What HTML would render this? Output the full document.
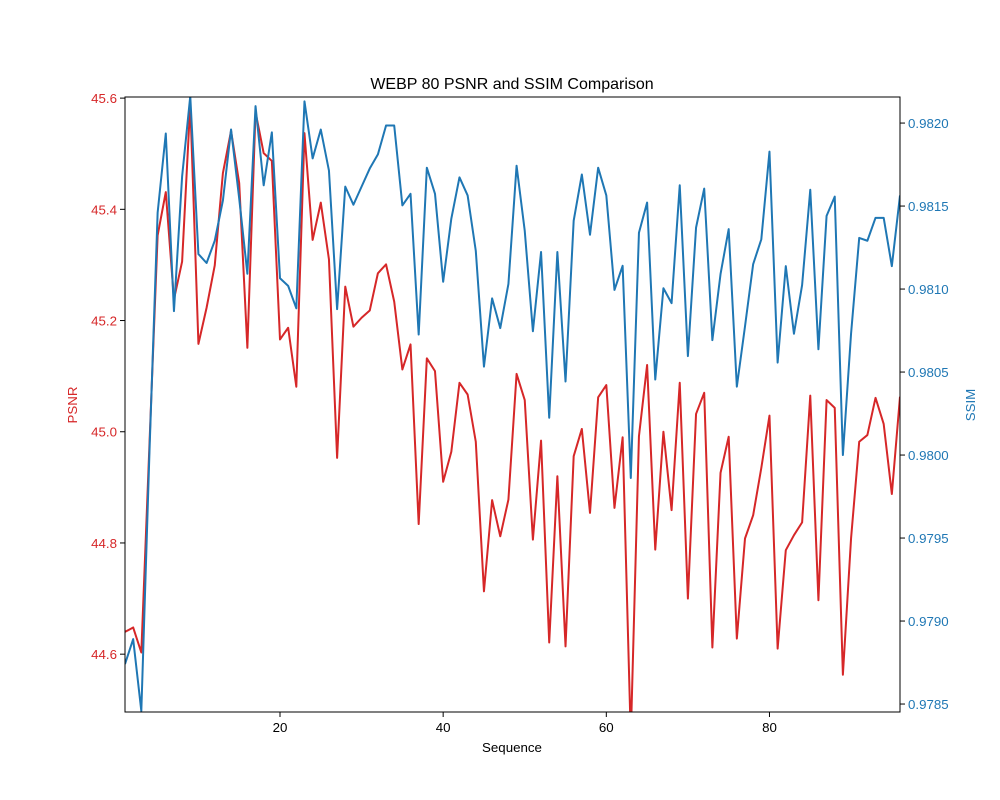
<!DOCTYPE html>
<html><head><meta charset="utf-8"><style>
html,body{margin:0;padding:0;background:#fff;}
svg{display:block;font-family:"Liberation Sans","DejaVu Sans",sans-serif;}
</style></head><body>
<svg id="chart" width="1000" height="800" viewBox="0 0 1000 800" xmlns="http://www.w3.org/2000/svg">
<rect width="1000" height="800" fill="#fff"/>
<text x="512" y="89" text-anchor="middle" font-size="16" fill="#000">WEBP 80 PSNR and SSIM Comparison</text>
<defs><clipPath id="clip"><rect x="125" y="97" width="775" height="615"/></clipPath></defs>
<g id="xticks"></g>
<g id="lticks"></g>
<g id="rticks"></g>
<g id="lines" clip-path="url(#clip)"></g>
<rect x="125" y="97" width="775" height="615" fill="none" stroke="#000" stroke-width="1"/>
<text x="512" y="752" text-anchor="middle" font-size="13.3" fill="#000">Sequence</text>
<text x="0" y="0" transform="translate(77,405) rotate(-90)" text-anchor="middle" font-size="13.3" fill="#d62728">PSNR</text>
<text x="0" y="0" transform="translate(975,405) rotate(-90)" text-anchor="middle" font-size="13.3" fill="#1f77b4">SSIM</text>
</svg>
<script>
const psnr = [44.640,44.648,44.603,44.978,45.353,45.431,45.238,45.306,45.590,45.158,45.223,45.299,45.465,45.541,45.447,45.151,45.575,45.501,45.487,45.166,45.187,45.081,45.537,45.345,45.412,45.310,44.953,45.261,45.189,45.205,45.218,45.285,45.301,45.234,45.112,45.157,44.834,45.132,45.109,44.910,44.964,45.088,45.067,44.982,44.713,44.877,44.812,44.878,45.104,45.057,44.806,44.984,44.621,44.920,44.614,44.956,45.005,44.854,45.062,45.084,44.863,44.990,44.450,44.992,45.120,44.788,45.000,44.859,45.088,44.700,45.032,45.070,44.612,44.926,44.991,44.628,44.808,44.850,44.935,45.029,44.610,44.787,44.814,44.837,45.065,44.697,45.057,45.043,44.563,44.808,44.982,44.994,45.061,45.014,44.888,45.063];
const ssim = [0.978741,0.978891,0.978458,0.980019,0.981460,0.981937,0.980867,0.981678,0.982162,0.981211,0.981157,0.981291,0.981533,0.981961,0.981545,0.981092,0.982102,0.981625,0.981944,0.981065,0.981019,0.980884,0.982131,0.981787,0.981961,0.981714,0.980879,0.981617,0.981508,0.981617,0.981726,0.981811,0.981985,0.981985,0.981504,0.981574,0.980726,0.981731,0.981574,0.981044,0.981424,0.981673,0.981564,0.981230,0.980533,0.980944,0.980765,0.981031,0.981743,0.981351,0.980746,0.981223,0.980225,0.981223,0.980443,0.981412,0.981690,0.981327,0.981731,0.981564,0.980995,0.981140,0.979862,0.981339,0.981521,0.980455,0.981005,0.980915,0.981625,0.980596,0.981370,0.981605,0.980692,0.981090,0.981361,0.980412,0.980775,0.981150,0.981300,0.981828,0.980557,0.981138,0.980731,0.981024,0.981598,0.980637,0.981441,0.981557,0.980000,0.980730,0.981308,0.981291,0.981429,0.981429,0.981138,0.981564];
const xTicks = [20,40,60,80];
const leftTicks = ["44.6","44.8","45.0","45.2","45.4","45.6"];
const rightTicks = ["0.9785","0.9790","0.9795","0.9800","0.9805","0.9810","0.9815","0.9820"];

const NS = "http://www.w3.org/2000/svg";
const L=125,R=900,T=97,B=712;
const xMin=1, xMax=96;
const lMin=44.496, lMax=45.602;
const rMin=0.978452, rMax=0.982157;
const xs = v => L + (v-xMin)/(xMax-xMin)*(R-L);
const yl = v => B - (v-lMin)/(lMax-lMin)*(B-T);
const yr = v => B - (v-rMin)/(rMax-rMin)*(B-T);
function mk(tag, attrs, parent){const e=document.createElementNS(NS,tag);for(const k in attrs)e.setAttribute(k,attrs[k]);parent.appendChild(e);return e;}

const gx=document.getElementById('xticks');
xTicks.forEach(t=>{
  const x=xs(t);
  const ln=mk('line',{x1:x,x2:x,y1:B,y2:B+5,stroke:'#000','stroke-width':1},gx);
  
  
  const tx=mk('text',{x:x,y:B+20,'text-anchor':'middle','font-size':13.3,fill:'#000'},gx);
  tx.textContent=t;
  
  
});
const gl=document.getElementById('lticks');
leftTicks.forEach(t=>{
  const y=yl(parseFloat(t));
  const ln=mk('line',{x1:L-5,x2:L,y1:y,y2:y,stroke:'#000','stroke-width':1},gl);
  
  
  const tx=mk('text',{x:L-8,y:y+5,'text-anchor':'end','font-size':13.3,fill:'#d62728'},gl);
  tx.textContent=t;
  
  
});
const gr=document.getElementById('rticks');
rightTicks.forEach(t=>{
  const y=yr(parseFloat(t));
  const ln=mk('line',{x1:R,x2:R+5,y1:y,y2:y,stroke:'#000','stroke-width':1},gr);
  
  
  const tx=mk('text',{x:R+8,y:y+5,'text-anchor':'start','font-size':13.3,fill:'#1f77b4'},gr);
  tx.textContent=t;
  
  
});
const gLines=document.getElementById('lines');
const pPts=psnr.map((v,i)=>xs(i+1).toFixed(2)+','+yl(v).toFixed(2)).join(' ');
const sPts=ssim.map((v,i)=>xs(i+1).toFixed(2)+','+yr(v).toFixed(2)).join(' ');
const pl=mk('polyline',{points:pPts,fill:'none',stroke:'#d62728','stroke-width':2,'stroke-linejoin':'round'},gLines);


const sl=mk('polyline',{points:sPts,fill:'none',stroke:'#1f77b4','stroke-width':2,'stroke-linejoin':'round'},gLines);


</script>
</body></html>
